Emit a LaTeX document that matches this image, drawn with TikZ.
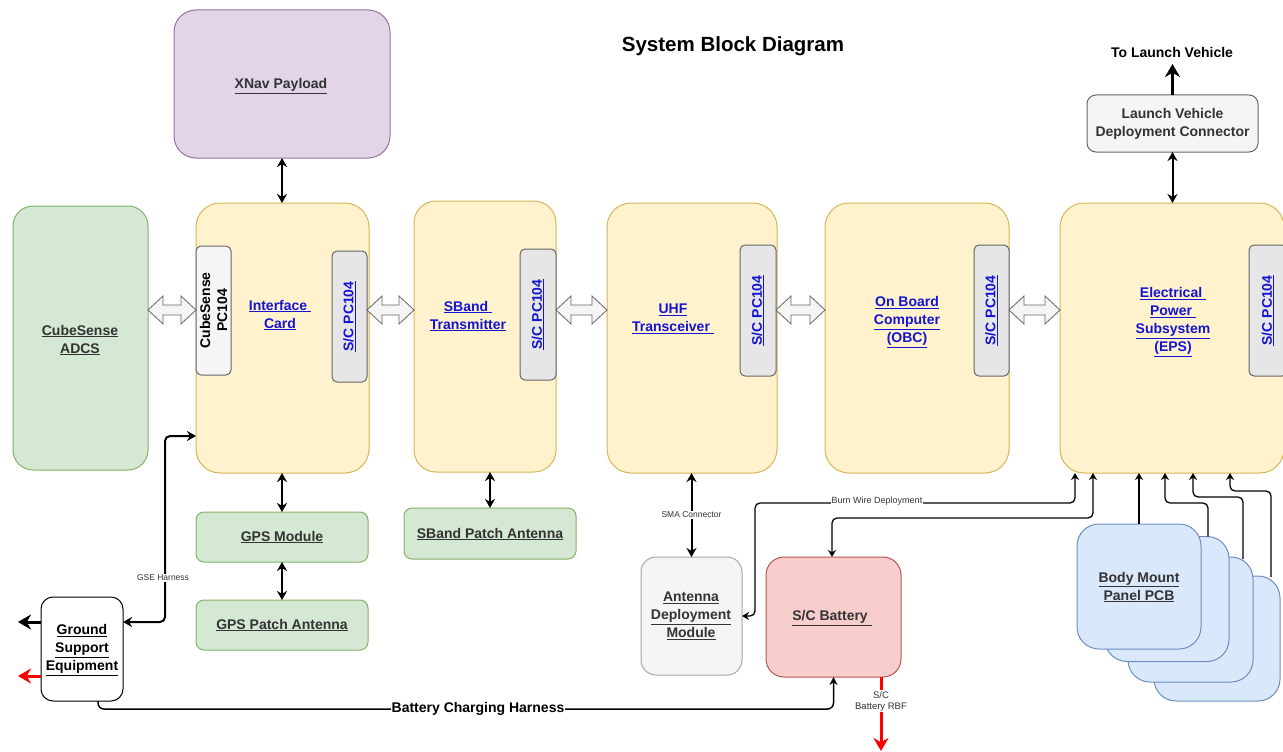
\documentclass[tikz,border=0pt]{standalone}
\usepackage{fontspec}
\setmainfont{Liberation Sans}
\usepackage{graphicx}
\usetikzlibrary{calc,arrows.meta}
\definecolor{ygfill}{HTML}{FFF2CC}\definecolor{ygline}{HTML}{D6B656}
\definecolor{gnfill}{HTML}{D5E8D4}\definecolor{gnline}{HTML}{82B366}
\definecolor{pufill}{HTML}{E1D5E7}\definecolor{puline}{HTML}{9673A6}
\definecolor{rdfill}{HTML}{F8CECC}\definecolor{rdline}{HTML}{B85450}
\definecolor{blfill}{HTML}{DAE8FC}\definecolor{blline}{HTML}{6C8EBF}
\definecolor{gyfill}{HTML}{F5F5F5}\definecolor{gyline}{HTML}{666666}
\definecolor{pcfill}{HTML}{E6E6E6}
\definecolor{txt}{HTML}{333333}
\definecolor{linkc}{HTML}{1414D2}
\definecolor{arrred}{HTML}{FF0000}
\newcommand\uln[1]{\underline{#1}}
\newcommand\lnk[1]{\textcolor{linkc}{\underline{#1}}}
\tikzset{
 boxbase/.style={draw, line width=1pt, inner sep=0pt, outer sep=0pt},
 ybox/.style={boxbase, fill=ygfill, draw=ygline},
 gbox/.style={boxbase, fill=gnfill, draw=gnline},
 pbox/.style={boxbase, fill=pufill, draw=puline},
 rbox/.style={boxbase, fill=rdfill, draw=rdline},
 bbox/.style={boxbase, fill=blfill, draw=blline},
 gybox/.style={boxbase, fill=gyfill, draw=gyline},
 wbox/.style={boxbase, fill=white, draw=black},
 pcbox/.style={boxbase, fill=pcfill, draw=gyline, rounded corners=5pt},
 lbl/.style={inner sep=0pt, align=center, font=\fontsize{14}{18}\selectfont\bfseries, text=txt},
 tinylbl/.style={inner sep=1pt, fill=white, align=center, font=\fontsize{8.5}{10}\selectfont, text=txt},
 dthick/.style={{Stealth[length=9pt,width=10pt]}-{Stealth[length=9pt,width=10pt]}, line width=2pt},
 bigarr/.style={-{Stealth[length=13pt,width=15pt]}, line width=3pt},
 thinarr/.style={-{Stealth[length=7pt,width=8pt]}, line width=1.3pt, rounded corners=5pt},
 thindarr/.style={{Stealth[length=7pt,width=8pt]}-{Stealth[length=7pt,width=8pt]}, line width=1.3pt, rounded corners=5pt},
 flex/.style={draw=gyline, fill=gyfill, line width=0.8pt, line join=miter,
  to path={let \p1=(\tikztostart), \p2=(\tikztotarget) in
   (\x1,\y1) -- (\x1+15pt,\y1+14pt) -- (\x1+15pt,\y1+5pt) -- (\x2-15pt,\y1+5pt) -- (\x2-15pt,\y1+14pt)
   -- (\x2,\y1) -- (\x2-15pt,\y1-14pt) -- (\x2-15pt,\y1-5pt) -- (\x1+15pt,\y1-5pt) -- (\x1+15pt,\y1-14pt) -- cycle}}
}
\begin{document}
\begin{tikzpicture}[x=1pt,y=-1pt]
\useasboundingbox (0,0) rectangle (1283,752);
\clip (0,0) rectangle (1283,752);
% title
\node[font=\fontsize{20.5}{24}\selectfont\bfseries] (title) at (733,46) {System Block Diagram};
% main boxes
\node[pbox, minimum width=216pt, minimum height=148pt, rounded corners=22pt] (xnav) at (282,84) {};
\node[gbox, minimum width=135pt, minimum height=264pt, rounded corners=20pt] (adcs) at (80.5,338) {};
\node[ybox, minimum width=173pt, minimum height=270pt, rounded corners=24pt] (iface) at (282.5,338) {};
\node[ybox, minimum width=142pt, minimum height=271pt, rounded corners=22pt] (sband) at (485,336.5) {};
\node[ybox, minimum width=170pt, minimum height=270pt, rounded corners=24pt] (uhf) at (692,338) {};
\node[ybox, minimum width=184pt, minimum height=270pt, rounded corners=24pt] (obc) at (917,338) {};
\node[ybox, minimum width=224pt, minimum height=270pt, rounded corners=24pt] (eps) at (1172,338) {};
\node[gybox, minimum width=171pt, minimum height=57pt, rounded corners=9pt] (lvdc) at (1172.5,123.5) {};
\node[gbox, minimum width=172pt, minimum height=50pt, rounded corners=8pt] (gps) at (282,537) {};
\node[gbox, minimum width=172pt, minimum height=50pt, rounded corners=8pt] (gpsp) at (282,625) {};
\node[gbox, minimum width=172pt, minimum height=51pt, rounded corners=8pt] (sbp) at (490,533.5) {};
\node[boxbase, fill=gyfill, draw=gray!70, minimum width=101pt, minimum height=118pt, rounded corners=15pt] (adm) at (691.5,616) {};
\node[rbox, minimum width=135pt, minimum height=120pt, rounded corners=18pt] (bat) at (833.5,617) {};
\node[wbox, minimum width=82pt, minimum height=104pt, rounded corners=12pt] (gse) at (82,649) {};
\node[bbox, minimum width=126pt, minimum height=125pt, rounded corners=22pt] (p4) at (1217,638.5) {};
\node[bbox, minimum width=125pt, minimum height=125pt, rounded corners=22pt] (p3) at (1190.5,619.5) {};
\node[bbox, minimum width=124pt, minimum height=125pt, rounded corners=22pt] (p2) at (1167,599) {};
\node[bbox, minimum width=124pt, minimum height=125pt, rounded corners=22pt] (p1) at (1139,586.5) {};
% PC104 connectors
\node[pcbox, fill=gyfill, minimum width=35pt, minimum height=129pt] (cspc) at (213.5,310.5) {};
\node[pcbox, minimum width=35pt, minimum height=131pt] (ipc) at (349.5,316.5) {};
\node[pcbox, minimum width=36pt, minimum height=131pt] (spc) at (538,314.5) {};
\node[pcbox, minimum width=36pt, minimum height=131pt] (upc) at (758,310.5) {};
\node[pcbox, minimum width=35pt, minimum height=131pt] (opc) at (991.5,310.5) {};
\node[pcbox, minimum width=38pt, minimum height=131pt] (epc) at (1268,310.5) {};
% texts
\node[lbl] (xnavt) at (281,86) {\uln{XNav Payload}};
\node[lbl] (adcst) at (80,340) {\uln{CubeSense}\\\uln{ADCS}};
\node[lbl] (ifacet) at (280,315) {\lnk{Interface\ }\\\lnk{Card}};
\node[lbl] (sbandt) at (468,316) {\lnk{SBand\ }\\\lnk{Transmitter}};
\node[lbl] (uhft) at (673,319) {\lnk{UHF}\\\lnk{Transceiver\ }};
\node[lbl] (obct) at (907,322) {\lnk{On Board}\\\lnk{Computer}\\\lnk{(OBC)}};
\node[lbl] (epst) at (1173,322) {\lnk{Electrical\ }\\\lnk{Power\ }\\\lnk{Subsystem}\\\lnk{(EPS)}};
\node[lbl, text=black, rotate=90, font=\fontsize{14}{17}\selectfont\bfseries] (cspct) at (cspc) {CubeSense\\PC104};
\node[lbl, rotate=90] (ipct) at (ipc) {\lnk{S/C PC104}};
\node[lbl, rotate=90] (spct) at (spc) {\lnk{S/C PC104}};
\node[lbl, rotate=90] (upct) at (upc) {\lnk{S/C PC104}};
\node[lbl, rotate=90] (opct) at (opc) {\lnk{S/C PC104}};
\node[lbl, rotate=90] (epct) at (epc) {\lnk{S/C PC104}};
\node[lbl] (lvdct) at (1172.5,124) {Launch Vehicle\\Deployment Connector};
\node[lbl, text=black] (tolv) at (1172,52) {To Launch Vehicle};
\node[lbl] (gpst) at (282,537) {\uln{GPS Module}};
\node[lbl] (gpspt) at (282,625) {\uln{GPS Patch Antenna}};
\node[lbl] (sbpt) at (490,534) {\uln{SBand Patch Antenna}};
\node[lbl] (admt) at (691,616) {\uln{Antenna}\\\uln{Deployment}\\\uln{Module}};
\node[lbl] (batt) at (832,618) {\uln{S/C Battery\ }};
\node[lbl, text=black] (gset) at (82,650) {\uln{Ground}\\\uln{Support}\\\uln{Equipment}};
\node[lbl] (p1t) at (1139,587) {\uln{Body Mount}\\\uln{Panel PCB}};
% hollow bus arrows
\coordinate (ay) at (0,310);
\draw[flex] (adcs.east |- ay) to (cspc.west |- ay);
\draw[flex] (ipc.east |- ay) to (sband.west |- ay);
\draw[flex] (spc.east |- ay) to (uhf.west |- ay);
\draw[flex] (upc.east |- ay) to (obc.west |- ay);
\draw[flex] (opc.east |- ay) to (eps.west |- ay);
% vertical double arrows
\draw[dthick] (xnav.south) -- (xnav.south |- iface.north);
\draw[dthick] (lvdc.south) -- (lvdc.south |- eps.north);
\coordinate (lvt) at (1172.5,64);
\draw[bigarr] (lvdc.north) -- (lvt);
\draw[dthick] (gps.north |- iface.south) -- (gps.north);
\draw[dthick] (gps.south) -- (gpsp.north);
\draw[dthick] (sband.south -| sbp.north) -- (sbp.north);
\draw[dthick] (uhf.south -| adm.north) -- (adm.north) node[tinylbl, midway] (smal) {SMA Connector};
% GSE harness
\coordinate (gh) at (165,436);
\draw[dthick, rounded corners=5pt] ($(gse.north east)+(0,25)$) -| (gh) -- (iface.west |- gh);
\node[tinylbl] (ghl) at (163,578) {GSE Harness};
% GSE outputs
\coordinate (go1) at (18,622);
\coordinate (go2) at (18,676);
\draw[bigarr] (gse.west |- go1) -- (go1);
\draw[bigarr, arrred] (gse.west |- go2) -- (go2);
% battery charging harness
\coordinate (bch) at ($(bat.south)+(0,32)$);
\draw[-{Stealth[length=8pt,width=8pt]}, line width=1.5pt, rounded corners=6pt] ($(gse.south)+(16,0)$) |- (bch) -- (bat.south);
\node[inner sep=1pt, fill=white, font=\fontsize{14}{16}\selectfont\bfseries] (bchl) at (478,709) {Battery Charging Harness};
% RBF
\coordinate (rbf) at (881,751);
\draw[bigarr, arrred] ($(bat.south)+(47.5,0)$) -- (rbf) node[pos=0.33, inner sep=1pt, fill=white, align=center, text=txt, font=\fontsize{9.5}{11}\selectfont] (rbfl) {S/C\\Battery RBF};
% burn wire and battery power
\coordinate (epsA) at ($(eps.south west)+(15,0)$);
\coordinate (epsB) at ($(eps.south west)+(33,0)$);
\coordinate (bw) at (755,503);
\coordinate (bl) at (832,518);
\draw[thindarr] (epsA) |- (bw) |- (adm.east);
\node[tinylbl, font=\fontsize{9}{10}\selectfont] (bwl) at (877,501) {Burn Wire Deployment};
\draw[thindarr] (epsB) |- (bl) -- (bl |- bat.north);
% body mount panel feeds
\draw[thinarr] (p1.north) -- (p1.north |- eps.south);
\coordinate (q2) at (1165,503);
\coordinate (q3) at (1193,497);
\coordinate (q4) at (1230,491);
\draw[thinarr] ($(p2.north east)+(-21,0)$) |- (q2) -- (q2 |- eps.south);
\draw[thinarr] ($(p3.north east)+(-10,2)$) |- (q3) -- (q3 |- eps.south);
\draw[thinarr] ($(p4.north east)+(-9,1)$) |- (q4) -- (q4 |- eps.south);
\end{tikzpicture}
\end{document}
